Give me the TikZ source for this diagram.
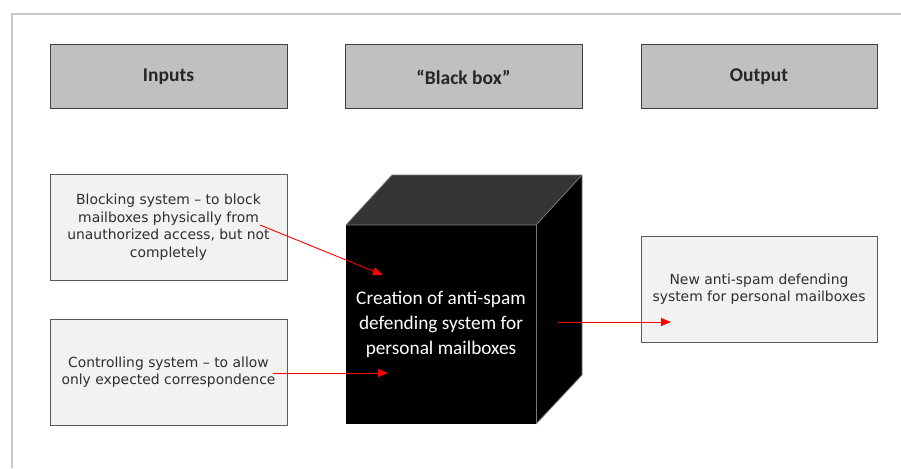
\documentclass[tikz,border=0pt]{standalone}
\usepackage{fontspec}
\setmainfont{Carlito}
\newfontfamily\boxfont{DejaVu Sans}
\usetikzlibrary{arrows.meta}
\definecolor{hdrfill}{RGB}{192,192,192}
\definecolor{hdrdraw}{RGB}{64,64,64}
\definecolor{boxfill}{RGB}{242,242,242}
\definecolor{boxdraw}{RGB}{89,89,89}
\definecolor{topface}{RGB}{52,52,52}
\definecolor{edgegray}{RGB}{120,120,120}
\definecolor{framegray}{RGB}{200,200,200}
\tikzset{
  hdr/.style={draw=hdrdraw, fill=hdrfill, line width=1pt, minimum width=237pt, minimum height=64pt, inner sep=0pt,
    font=\fontsize{19.5}{23}\selectfont\bfseries, text=black!85},
  inbox/.style={draw=boxdraw, fill=boxfill, line width=1pt, minimum width=237pt, minimum height=106pt, inner sep=0pt,
    align=center, font=\boxfont\fontsize{13.9}{17.6}\selectfont, text=black!82},
  redarrow/.style={draw=red, line width=0.9pt, -{Triangle[length=10pt,width=8pt]}},
}
\begin{document}
\begin{tikzpicture}[x=1pt,y=-1pt]
\useasboundingbox (0,0) rectangle (901,468);
% page frame
\draw[framegray, line width=1.2pt] (12,468) -- (12,14) -- (901,14);
% headers
\node[hdr] (hin) at (168.5,77) {Inputs};
\node[hdr] (hbb) at (463.5,77) {“Black box”};
\node[hdr, minimum width=236pt] (hout) at (759,77) {Output};
% input/output boxes
\node[inbox] (block) at (168.5,227) {Blocking system – to block\\mailboxes physically from\\unauthorized access, but not\\completely};
\node[inbox] (ctrl) at (168.5,372) {Controlling system – to allow\\only expected correspondence};
\node[inbox, minimum width=236pt] (out) at (759,289) {New anti-spam defending\\system for personal mailboxes};
% cube
\fill[topface] (346,225) -- (392,175) -- (582,175) -- (536,225) -- cycle;
\fill[black] (536,225) -- (582,175) -- (582,375) -- (536,424) -- cycle;
\node[fill=black, minimum width=190pt, minimum height=199pt, inner sep=0pt, align=center, text=white,
  font=\fontsize{19.3}{25}\selectfont] (cube) at (441,324.5) {Creation of anti-spam\\defending system for\\personal mailboxes};
\draw[edgegray, line width=0.8pt] (346,225) -- (392,175) -- (582,175) -- (582,375) -- (536,424);
\draw[edgegray, line width=0.8pt] (346,225) -- (536,225) -- (582,175);
\draw[edgegray, line width=0.8pt] (536,225) -- (536,424);
% arrows
\coordinate (a1s) at (260,225);
\coordinate (a1e) at (383,275);
\coordinate (a2s) at (273,373);
\coordinate (a2e) at (388,373);
\coordinate (a3s) at (558,322);
\coordinate (a3e) at (671,322);
\draw[redarrow] (a1s) -- (a1e);
\draw[redarrow] (a2s) -- (a2e);
\draw[redarrow] (a3s) -- (a3e);
\end{tikzpicture}
\end{document}
